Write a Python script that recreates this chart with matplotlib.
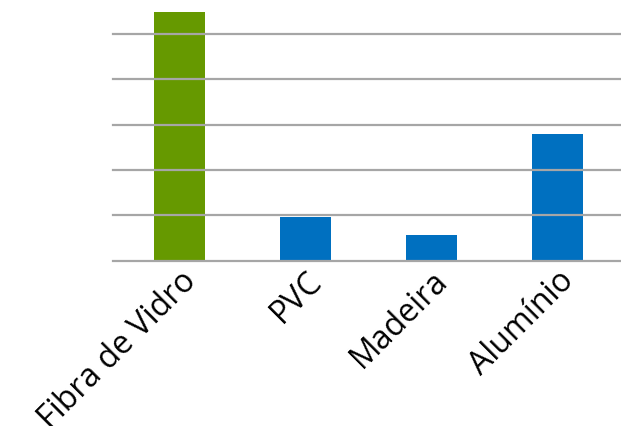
import matplotlib

matplotlib.use("Agg")

import matplotlib.pyplot as plt

categories = ["Fibra de Vidro", "PVC", "Madeira", "Alumínio"]
values = [5.48, 0.96, 0.57, 2.79]
bar_colors = ["#669900", "#0070C0", "#0070C0", "#0070C0"]
grid_levels = [0, 1, 2, 3, 4, 5]

plt.rcParams["font.family"] = ["Open Sans", "DejaVu Sans"]

fig = plt.figure(figsize=(6.21, 4.27), dpi=100)
ax = fig.add_axes([113 / 621, (427 - 261.7) / 427, (621 - 113) / 621, 261.7 / 427])

ax.bar(range(len(categories)), values, width=0.405, color=bar_colors, zorder=1)
for level in grid_levels:
    ax.axhline(level, color="#A6A6A6", linewidth=1.6, zorder=2, clip_on=False)

ax.set_xlim(-0.53, 3.505)
ax.set_ylim(0, 5.77)
ax.set_yticks([])
ax.set_xticks(range(len(categories)))
ax.set_xticklabels(categories, rotation=45, ha="right", rotation_mode="anchor", fontsize=23)
ax.tick_params(axis="x", length=0, pad=2)
for spine in ax.spines.values():
    spine.set_visible(False)

fig.savefig("out.png", dpi=100, facecolor="white")
